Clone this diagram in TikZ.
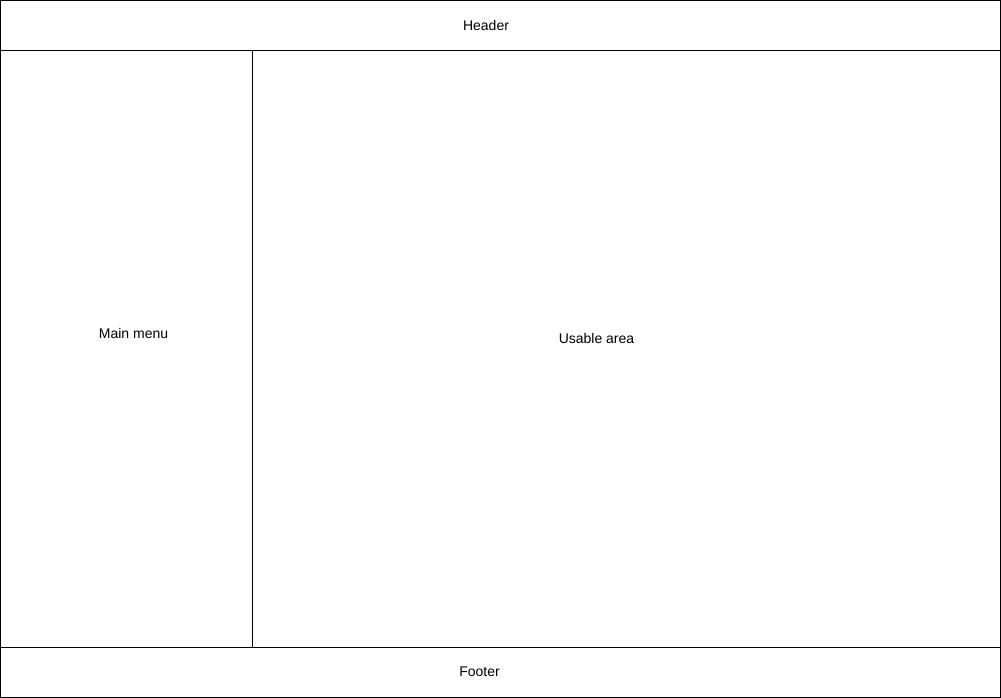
\documentclass[tikz,border=0pt]{standalone}
\usepackage{fontspec}
\setmainfont{Liberation Sans}
\begin{document}
\begin{tikzpicture}[x=1pt,y=-1pt,
  region/.style={draw=black,line width=1pt,fill=none},
  lbl/.style={font=\fontsize{14}{16}\selectfont,inner sep=0pt,anchor=center}]
\useasboundingbox (0,0) rectangle (1001,698);
\draw[region] (0.5,0.5) rectangle (1000.5,50.5);
\draw[region] (0.5,50.5) rectangle (252.5,647.5);
\draw[region] (252.5,50.5) rectangle (1000.5,647.5);
\draw[region] (0.5,647.5) rectangle (1000.5,697.5);
\node[lbl] (header) at (486,25) {Header};
\node[lbl] (menu) at (133.5,333.5) {Main menu};
\node[lbl] (usable) at (596.5,338.5) {Usable area};
\node[lbl] (footer) at (479.5,671.5) {Footer};
\end{tikzpicture}
\end{document}
